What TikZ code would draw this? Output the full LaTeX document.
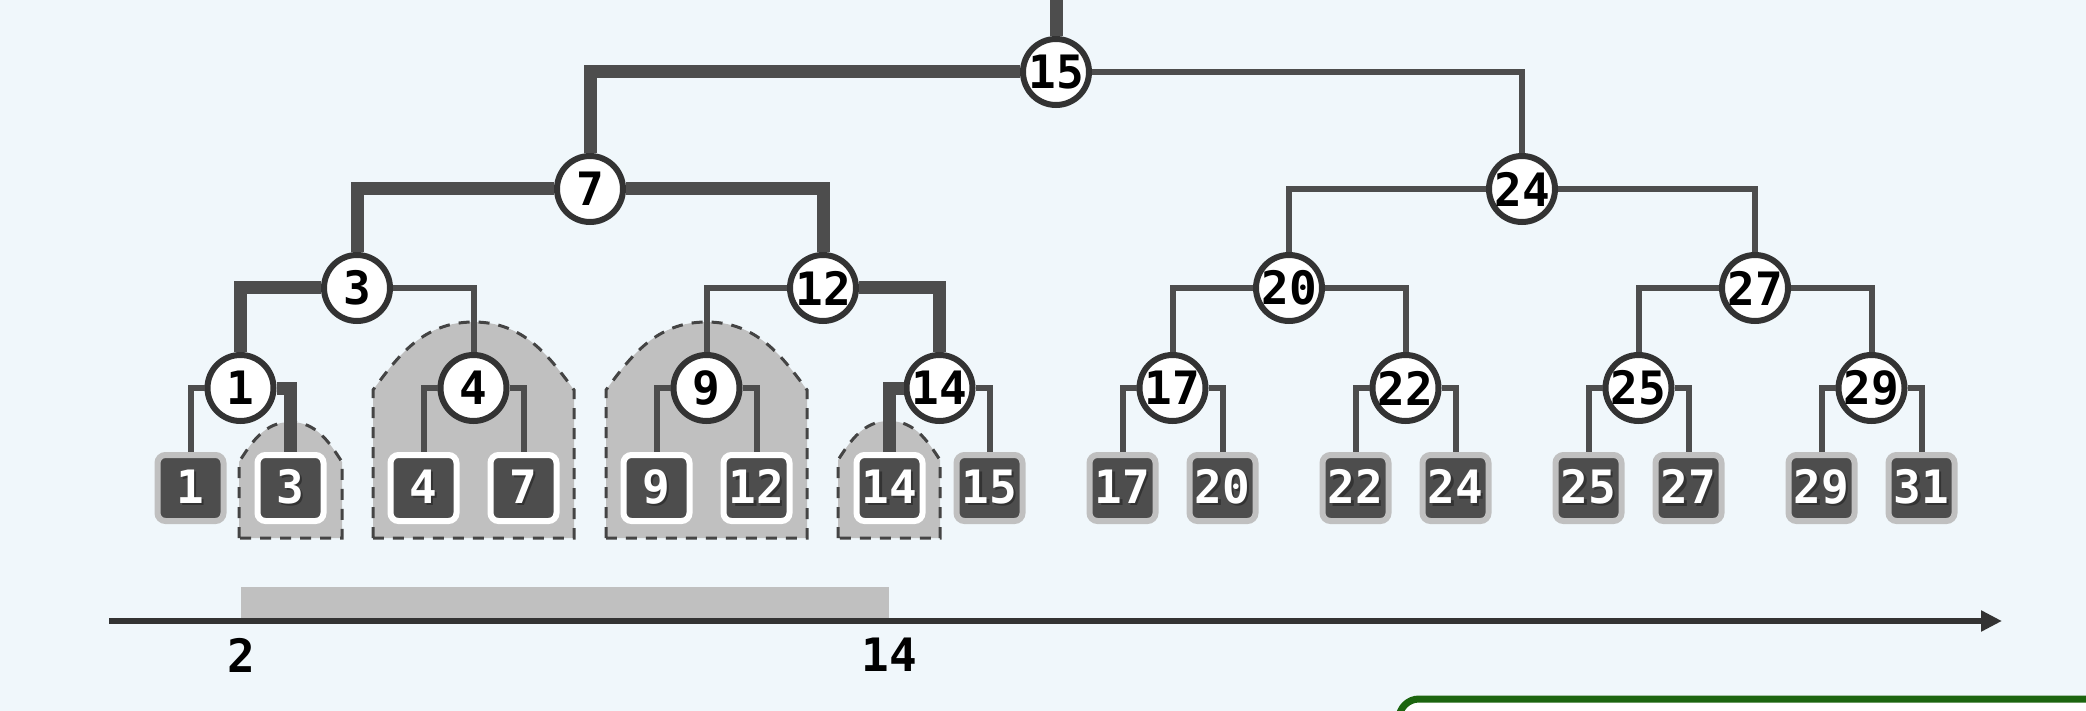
\documentclass[tikz,border=0pt]{standalone}
\usepackage{fontspec}
\newfontfamily\numfont{DejaVu Sans Mono}
\usetikzlibrary{arrows.meta}
\definecolor{bgc}{HTML}{F0F7FB}
\definecolor{edgec}{HTML}{4D4D4D}
\definecolor{ringc}{HTML}{333333}
\definecolor{leafc}{HTML}{4D4D4D}
\definecolor{lgray}{HTML}{C0C0C0}
\definecolor{dashc}{HTML}{444444}
\definecolor{greenc}{HTML}{1C650F}
\newcommand{\shd}[1]{\rlap{\kern2.2pt\raisebox{-2.2pt}{\textcolor{black!80}{#1}}}#1}
\begin{document}
\begin{tikzpicture}[x=1pt,y=-1pt,
  numf/.style={font=\numfont\bfseries\fontsize{46}{46}\selectfont},
  inode/.style={circle, draw=ringc, line width=6pt, fill=white, minimum size=66pt, inner sep=0pt},
  ilabel/.style={numf, text=black, inner sep=0pt},
  leafbox/.style={rectangle, rounded corners=8pt, draw=lgray, line width=6pt, fill=leafc, minimum size=66pt, inner sep=0pt, text=white, numf},
  selleaf/.style={leafbox, draw=white},
  thinedge/.style={draw=edgec, line width=6pt},
  thickedge/.style={draw=edgec, line width=13pt},
  dome/.style={fill=lgray, draw=dashc, line width=3pt, dash pattern=on 11pt off 9pt},
  axisline/.style={draw=ringc, line width=6pt, -{Triangle[length=21pt,width=20pt]}},
  axlabel/.style={numf, text=black, inner sep=0pt},
]
\useasboundingbox (0,0) rectangle (2086,711);
\clip (0,0) rectangle (2086,711);
\fill[bgc] (0,0) rectangle (2086,711);

% highlighted regions
\path[dome] (239,538) -- (239,462) .. controls (251.9,442) and (264.75,422) .. (290.5,422)
  .. controls (316.25,422) and (329.1,442) .. (342,462) -- (342,538) -- cycle;
\path[dome] (373,538) -- (373,390) .. controls (398.1,356) and (423.25,322) .. (473.5,322)
  .. controls (523.75,322) and (548.9,356) .. (574,390) -- (574,538) -- cycle;
\path[dome] (606,538) -- (606,390) .. controls (631.1,356) and (656.25,322) .. (706.5,322)
  .. controls (756.75,322) and (781.9,356) .. (807,390) -- (807,538) -- cycle;
\path[dome] (838,538) -- (838,460) .. controls (850.75,440.5) and (863.5,421) .. (889,421)
  .. controls (914.5,421) and (927.25,440.5) .. (940,460) -- (940,538) -- cycle;

% internal nodes
\node[inode, label={[ilabel]center:15}] (n15) at (1056,72) {};
\node[inode, label={[ilabel]center:7}] (n7) at (590,189) {};
\node[inode, label={[ilabel]center:24}] (n24) at (1522,189) {};
\node[inode, label={[ilabel]center:3}] (n3) at (357,288) {};
\node[inode, label={[ilabel]center:12}] (n12) at (823,288) {};
\node[inode, label={[ilabel]center:20}] (n20) at (1289,288) {};
\node[inode, label={[ilabel]center:27}] (n27) at (1755,288) {};
\node[inode, label={[ilabel]center:1}] (n1) at (240.5,388) {};
\node[inode, label={[ilabel]center:4}] (n4) at (473.5,388) {};
\node[inode, label={[ilabel]center:9}] (n9) at (706.5,388) {};
\node[inode, label={[ilabel]center:14}] (n14) at (939.5,388) {};
\node[inode, label={[ilabel]center:17}] (n17) at (1172.5,388) {};
\node[inode, label={[ilabel]center:22}] (n22) at (1405.5,388) {};
\node[inode, label={[ilabel]center:25}] (n25) at (1638.5,388) {};
\node[inode, label={[ilabel]center:29}] (n29) at (1871.5,388) {};

% leaves
\node[leafbox] (l1) at (190.5,488) {\shd{1}};
\node[selleaf] (l3) at (290.5,488) {\shd{3}};
\node[selleaf] (l4) at (423.5,488) {\shd{4}};
\node[selleaf] (l7) at (523.5,488) {\shd{7}};
\node[selleaf] (l9) at (656.5,488) {\shd{9}};
\node[selleaf] (l12) at (756.5,488) {\shd{12}};
\node[selleaf] (l14) at (889.5,488) {\shd{14}};
\node[leafbox] (l15) at (989.5,488) {\shd{15}};
\node[leafbox] (l17) at (1122.5,488) {\shd{17}};
\node[leafbox] (l20) at (1222.5,488) {\shd{20}};
\node[leafbox] (l22) at (1355.5,488) {\shd{22}};
\node[leafbox] (l24) at (1455.5,488) {\shd{24}};
\node[leafbox] (l25) at (1588.5,488) {\shd{25}};
\node[leafbox] (l27) at (1688.5,488) {\shd{27}};
\node[leafbox] (l29) at (1821.5,488) {\shd{29}};
\node[leafbox] (l31) at (1921.5,488) {\shd{31}};

% edges
\coordinate (top) at (1056,0);
\draw[thickedge] (n15.north) -- (top);
\draw[thickedge] (n15.west) -| (n7.north);
\draw[thinedge] (n15.east) -| (n24.north);
\draw[thickedge] (n7.west) -| (n3.north);
\draw[thickedge] (n7.east) -| (n12.north);
\draw[thinedge] (n24.west) -| (n20.north);
\draw[thinedge] (n24.east) -| (n27.north);
\draw[thickedge] (n3.west) -| (n1.north);
\draw[thinedge] (n3.east) -| (n4.north);
\draw[thinedge] (n12.west) -| (n9.north);
\draw[thickedge] (n12.east) -| (n14.north);
\draw[thinedge] (n20.west) -| (n17.north);
\draw[thinedge] (n20.east) -| (n22.north);
\draw[thinedge] (n27.west) -| (n25.north);
\draw[thinedge] (n27.east) -| (n29.north);
\draw[thinedge] (n1.west) -| (l1.north);
\draw[thickedge] (n1.east) -| (l3.north);
\draw[thinedge] (n4.west) -| (l4.north);
\draw[thinedge] (n4.east) -| (l7.north);
\draw[thinedge] (n9.west) -| (l9.north);
\draw[thinedge] (n9.east) -| (l12.north);
\draw[thickedge] (n14.west) -| (l14.north);
\draw[thinedge] (n14.east) -| (l15.north);
\draw[thinedge] (n17.west) -| (l17.north);
\draw[thinedge] (n17.east) -| (l20.north);
\draw[thinedge] (n22.west) -| (l22.north);
\draw[thinedge] (n22.east) -| (l24.north);
\draw[thinedge] (n25.west) -| (l25.north);
\draw[thinedge] (n25.east) -| (l27.north);
\draw[thinedge] (n29.west) -| (l29.north);
\draw[thinedge] (n29.east) -| (l31.north);

% axis with query range
\fill[lgray] (241,587) rectangle (889,618);
\coordinate (axs) at (109,621);
\coordinate (axe) at (2002,621);
\draw[axisline] (axs) -- (axe);
\node[axlabel] (lab2) at (241,655) {2};
\node[axlabel] (lab14) at (889,655) {14};

% partial green box
\draw[draw=greenc, line width=7pt, fill=white, rounded corners=20pt] (1399,699) rectangle (2150,800);
\end{tikzpicture}
\end{document}
